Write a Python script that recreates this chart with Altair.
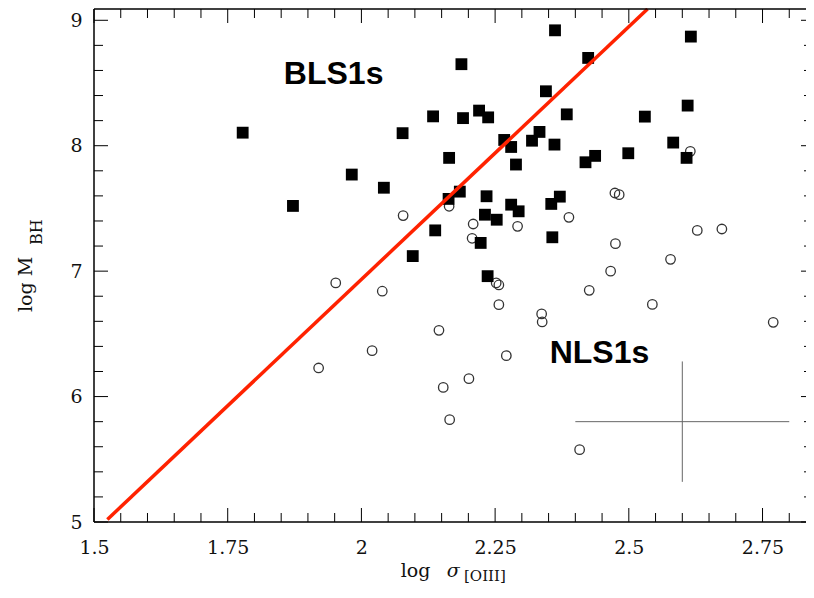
import altair as alt
import pandas as pd

# ---- data ----
bls_x = [1.778, 1.872, 1.982, 2.042, 2.077, 2.096, 2.362, 2.616, 2.187, 2.424,
         2.345, 2.610, 2.134, 2.190, 2.220, 2.237, 2.384, 2.530, 2.267, 2.280,
         2.319, 2.333, 2.361, 2.583, 2.164, 2.289, 2.419, 2.437, 2.499, 2.608,
         2.184, 2.163, 2.234, 2.280, 2.294, 2.355, 2.371, 2.231, 2.253, 2.138,
         2.223, 2.357, 2.236]
bls_y = [8.104, 7.52, 7.77, 7.665, 8.10, 7.12, 8.92, 8.87, 8.65, 8.70,
         8.434, 8.32, 8.234, 8.22, 8.28, 8.226, 8.25, 8.232, 8.046, 7.99,
         8.04, 8.11, 8.009, 8.025, 7.903, 7.85, 7.868, 7.919, 7.94, 7.903,
         7.634, 7.576, 7.597, 7.53, 7.477, 7.536, 7.594, 7.45, 7.41, 7.325,
         7.225, 7.27, 6.96]

nls_x = [2.615, 2.474, 2.482, 2.078, 2.164, 2.388, 2.209, 2.292, 2.207, 2.628,
         2.674, 2.475, 2.578, 2.466, 2.252, 2.257, 2.426, 1.952, 2.039, 2.257,
         2.544, 2.337, 2.338, 2.770, 2.145, 2.271, 2.201, 2.153, 2.165, 2.408,
         1.920, 2.020]
nls_y = [7.955, 7.623, 7.61, 7.443, 7.517, 7.429, 7.376, 7.357, 7.262, 7.325,
         7.336, 7.219, 7.094, 7.00, 6.906, 6.89, 6.847, 6.906, 6.84, 6.733,
         6.735, 6.659, 6.595, 6.592, 6.528, 6.326, 6.143, 6.073, 5.816, 5.577,
         6.228, 6.366]

line_x = [1.525, 2.535]
line_y = [5.02, 9.09]

# error cross
cross_x = [2.4, 2.6]
cross_x2 = [2.8, 2.6]
cross_y = [5.8, 5.32]
cross_y2 = [5.8, 6.28]

lab_text = ["BLS1s", "NLS1s"]
lab_x = [1.855, 2.352]
lab_y = [8.495, 6.268]

x_major = [1.5, 1.75, 2.0, 2.25, 2.5, 2.75]
x_minor = [1.55, 1.6, 1.65, 1.7, 1.8, 1.85, 1.9, 1.95, 2.05, 2.1, 2.15, 2.2,
           2.3, 2.35, 2.4, 2.45, 2.55, 2.6, 2.65, 2.7, 2.8]
y_major = [5, 6, 7, 8, 9]
y_minor = [5.2, 5.4, 5.6, 5.8, 6.2, 6.4, 6.6, 6.8, 7.2, 7.4, 7.6, 7.8,
           8.2, 8.4, 8.6, 8.8]

W, H = 712, 513
MAJ, MIN = 14, 9

xs = alt.Scale(domain=[1.5, 2.8313], nice=False, zero=False)
ys = alt.Scale(domain=[5, 9.09], nice=False, zero=False)

df_bls = pd.DataFrame({"x": bls_x, "y": bls_y})
df_nls = pd.DataFrame({"x": nls_x, "y": nls_y})
df_line = pd.DataFrame({"x": line_x, "y": line_y})
df_cross = pd.DataFrame({"x": cross_x, "x2": cross_x2, "y": cross_y, "y2": cross_y2})
df_lab = pd.DataFrame({"t": lab_text, "x": lab_x, "y": lab_y})
one = pd.DataFrame({"a": [0]})

axis_x = alt.Axis(values=x_major, labelExpr="'' + datum.value", ticks=False,
                  domain=False, grid=False, title=None, labelFont="DejaVu Serif",
                  labelFontSize=19, labelColor="#111", labelPadding=16,
                  labelOverlap=False, labelFlush=False)
axis_y = alt.Axis(values=y_major, labelExpr="'' + datum.value", ticks=False,
                  domain=False, grid=False, title=None, labelFont="DejaVu Serif",
                  labelFontSize=19, labelColor="#111", labelPadding=12,
                  labelOverlap=False, labelFlush=False)


def X(f):
    return alt.X(f, scale=xs, axis=axis_x)


def Y(f):
    return alt.Y(f, scale=ys, axis=axis_y)


nls = alt.Chart(df_nls).mark_point(
    shape="circle", filled=False, size=90, stroke="#333", strokeWidth=1.3, opacity=1
).encode(x=X("x:Q"), y=Y("y:Q"))

bls = alt.Chart(df_bls).mark_point(
    shape="square", filled=True, size=140, color="black", opacity=1
).encode(x=X("x:Q"), y=Y("y:Q"))

line = alt.Chart(df_line).mark_line(color="#ff2200", strokeWidth=3.5).encode(
    x=X("x:Q"), y=Y("y:Q"))

cross = alt.Chart(df_cross).mark_rule(color="#666", strokeWidth=1).encode(
    x=X("x:Q"), x2="x2:Q", y=Y("y:Q"), y2="y2:Q")

labels = alt.Chart(df_lab).mark_text(
    align="left", baseline="alphabetic", font="Liberation Sans",
    fontWeight="bold", fontSize=32, color="black"
).encode(x=X("x:Q"), y=Y("y:Q"), text="t:N")

# frame (top, left, bottom; the right side lies beyond the picture)
frame = [
    alt.Chart(one).mark_rule(color="black", strokeWidth=1.5).encode(
        x=alt.value(0), x2=alt.value(W), y=alt.value(0)),
    alt.Chart(one).mark_rule(color="black", strokeWidth=1.5).encode(
        x=alt.value(0), x2=alt.value(W), y=alt.value(H)),
    alt.Chart(one).mark_rule(color="black", strokeWidth=1.5).encode(
        x=alt.value(0), y=alt.value(0), y2=alt.value(H)),
]


def xticks(vals, length, top):
    d = pd.DataFrame({"v": vals})
    yy, yy2 = (0, length) if top else (H, H - length)
    return alt.Chart(d).mark_rule(color="black", strokeWidth=1).encode(
        x=X("v:Q"), y=alt.value(yy), y2=alt.value(yy2))


def yticks(vals, x0, x1):
    d = pd.DataFrame({"v": vals})
    return alt.Chart(d).mark_rule(color="black", strokeWidth=1).encode(
        y=Y("v:Q"), x=alt.value(x0), x2=alt.value(x1))


ticks = [
    xticks(x_major, MAJ, False), xticks(x_minor, MIN, False),
    xticks(x_major, MAJ, True), xticks(x_minor, MIN, True),
    yticks(y_major, 0, MAJ), yticks(y_minor, 0, MIN),
    yticks(y_major, W - 5, W), yticks(y_minor, W - 2, W),
]


def txt(s, x, y, size, angle=0, style="normal"):
    d = pd.DataFrame({"t": [s]})
    return alt.Chart(d).mark_text(
        align="left", baseline="alphabetic", font="DejaVu Serif",
        fontSize=size, angle=angle, fontStyle=style, color="#111"
    ).encode(x=alt.value(x), y=alt.value(y), text="t:N")


titles = [
    txt("log", 306.7, 568, 19),
    txt("σ", 352.7, 568, 19, style="italic"),
    txt("[OIII]", 370, 572, 15),
    txt("log M", -62, 303, 19, angle=270),
    txt("BH", -52.5, 236, 16, angle=270),
]

chart = alt.layer(nls, bls, line, cross, labels, *frame, *ticks, *titles).properties(
    width=W, height=H,
    autosize=alt.AutoSizeParams(type="none"),
    padding={"left": 86, "top": 1, "right": 0, "bottom": 62},
).configure_view(stroke=None).configure_axis(grid=False)

chart.save("out.html", embed_options={"renderer": "svg", "actions": False})
